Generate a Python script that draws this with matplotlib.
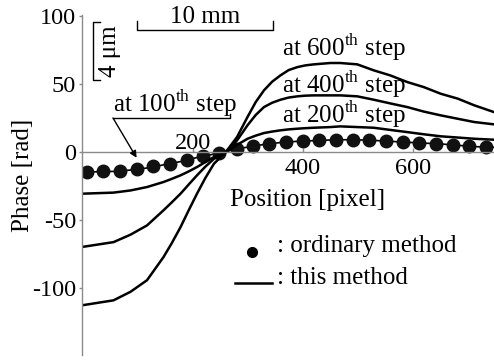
import matplotlib
matplotlib.use("Agg")
import matplotlib.pyplot as plt
from matplotlib.lines import Line2D

plt.rcParams['font.family'] = ['Liberation Serif', 'DejaVu Serif']
plt.rcParams['mathtext.fontset'] = 'custom'
plt.rcParams['mathtext.rm'] = 'Liberation Serif'
plt.rcParams['axes.unicode_minus'] = False

# ordinary method (dots)
dot_x = [6, 36, 67, 97, 127, 158, 188, 218, 248, 279, 309, 339, 370,
         400, 430, 460, 491, 521, 551, 582, 612, 642, 673, 703, 733]
dot_y = [-14.5, -14, -14, -12.5, -10.3, -8.3, -5.9, -2.9, -0.5, 2.7, 4.4, 6.4, 7.6,
         8.3, 8.8, 9.3, 9.3, 8.8, 8.3, 7.6, 6.9, 6.4, 5.6, 4.5, 3.9]

# this method, at several steps
curve_x = [-3, 55, 86, 116, 146, 161, 177, 192, 207, 222, 238, 259, 280, 299, 314, 329,
           344, 359, 374, 390, 405, 420, 450, 468, 499, 529, 559, 590, 620, 651, 682, 712, 748]
step100 = [-14.5, -14, -13, -11.5, -9.2, -8, -6.8, -5.3, -3.8, -2.5, -1.3, 0.5, 2.7, 3.8,
           4.9, 5.8, 6.6, 7.2, 7.7, 8.1, 8.4, 8.6, 9.1, 9.3, 9.2, 8.8, 8.1, 7.4, 6.8, 6.2,
           5.2, 4.2, 3.8]
step200 = [-30.4, -29.6, -28, -25.5, -21.8, -19.5, -16.9, -14, -10.8, -7.2, -3.4, 0, 5.5,
           10, 12.3, 14.2, 15.3, 16.2, 16.9, 17.4, 17.8, 18.1, 18.6, 19.1, 18.6, 18.1, 16.5,
           14.9, 13.3, 11.8, 10.9, 10, 9.3]
step400 = [-69.6, -66, -60.5, -53.7, -42.6, -36.8, -30.4, -23.6, -16.9, -10.6, -4.7, 0, 8.8,
           19.9, 27.5, 33.3, 36.5, 38.7, 40.3, 41.2, 41.7, 41.9, 41.9, 41.9, 41.2, 38.7, 36,
           33.3, 30, 27.2, 24.7, 22.3, 20.6]
step600 = [-112.5, -108.8, -102.5, -94, -77, -66.8, -55, -42.5, -30.4, -19, -8.3, 0, 11.3,
           26, 37, 45.6, 52, 56.6, 60.5, 62.7, 64, 64.7, 65.7, 65.7, 64.7, 60.3, 56.6, 51.7,
           48, 43.1, 39.5, 34.6, 29.6]

xticks = [200, 400, 600]
yticks = [-100, -50, 0, 50, 100]

FS = 18
W, H = 494, 360
fig = plt.figure(figsize=(W / 100, H / 100), dpi=100)
ax = fig.add_axes([81.7 / W, 5 / H, 1 - 81.7 / W, 340 / H])
ax.set_xlim(-3, 748)
ax.set_ylim(-149, 101)

ax.plot(curve_x, step100, color='black', lw=1.2)
ax.plot(dot_x, dot_y, 'o', color='#111111', ms=9, lw=0)
ax.plot(curve_x, step200, color='black', lw=1.8)
ax.plot(curve_x, step400, color='black', lw=1.8)
ax.plot(curve_x, step600, color='black', lw=1.8)

for s in ['top', 'right']:
    ax.spines[s].set_visible(False)
ax.spines['bottom'].set_position(('data', 0))
for s in ['left', 'bottom']:
    ax.spines[s].set_color('#8a8a8a')
    ax.spines[s].set_linewidth(1.0)

ax.set_yticks(yticks)
ax.set_xticks(xticks)
ax.set_xticklabels([''] + [str(v) for v in xticks[1:]])
ax.tick_params(axis='y', direction='out', length=2.5, width=1, color='#8a8a8a',
               labelsize=17.5, pad=1.5)
ax.tick_params(axis='x', direction='in', length=3, width=1, color='#8a8a8a',
               labelsize=17.5, pad=4)
ax.text(xticks[0], 2.5, str(xticks[0]), ha='center', va='baseline', fontsize=17.5)

# axis labels
fig.text(308 / W, 1 - 200 / H, 'Position [pixel]', ha='center', va='center', fontsize=FS)
fig.text(23 / W, 1 - 175 / H, 'Phase [rad]', ha='center', va='center',
         rotation=90, fontsize=FS)

# step labels
for ypix, n in [(48, 600), (85, 400), (115, 200)]:
    fig.text(282 / W, 1 - ypix / H, 'at %d$^{\\mathrm{th}}$ step' % n,
             ha='left', va='center', fontsize=FS)
fig.text(113 / W, 1 - 104 / H, 'at 100$^{\\mathrm{th}}$ step',
         ha='left', va='center', fontsize=FS)

def fline(xs, ys, **kw):
    fig.add_artist(Line2D([x / W for x in xs], [1 - y / H for y in ys],
                          transform=fig.transFigure, color='black', **kw))

# underline + arrow for 100th step
fline([230, 230, 113], [114, 118, 118], lw=1)
ax.annotate('', xy=(97, -4), xycoords='data',
            xytext=(113 / W, 1 - 118 / H), textcoords='figure fraction',
            arrowprops=dict(arrowstyle='-|>', color='black', lw=1,
                            mutation_scale=10, shrinkA=0, shrinkB=0))

# scale bars
fline([137, 137, 273, 273], [21, 30, 30, 21], lw=1)
fig.text(205 / W, 1 - 17 / H, '10 mm', ha='center', va='center', fontsize=FS)
fline([100, 93, 93, 100], [22, 22, 80, 80], lw=1)
fig.text(110 / W, 1 - 51 / H, '4 μm', ha='center', va='center', rotation=90, fontsize=FS)

# legend
fig.add_artist(Line2D([251.7 / W], [1 - 251.7 / H], marker='o', ms=7, color='black',
                      transform=fig.transFigure))
fig.text(277 / W, 1 - 246 / H, ': ordinary method', ha='left', va='center', fontsize=FS)
fline([235, 272], [283, 283], lw=1.8)
fig.text(277 / W, 1 - 278 / H, ': this method', ha='left', va='center', fontsize=FS)

fig.savefig('out.png', dpi=100)
